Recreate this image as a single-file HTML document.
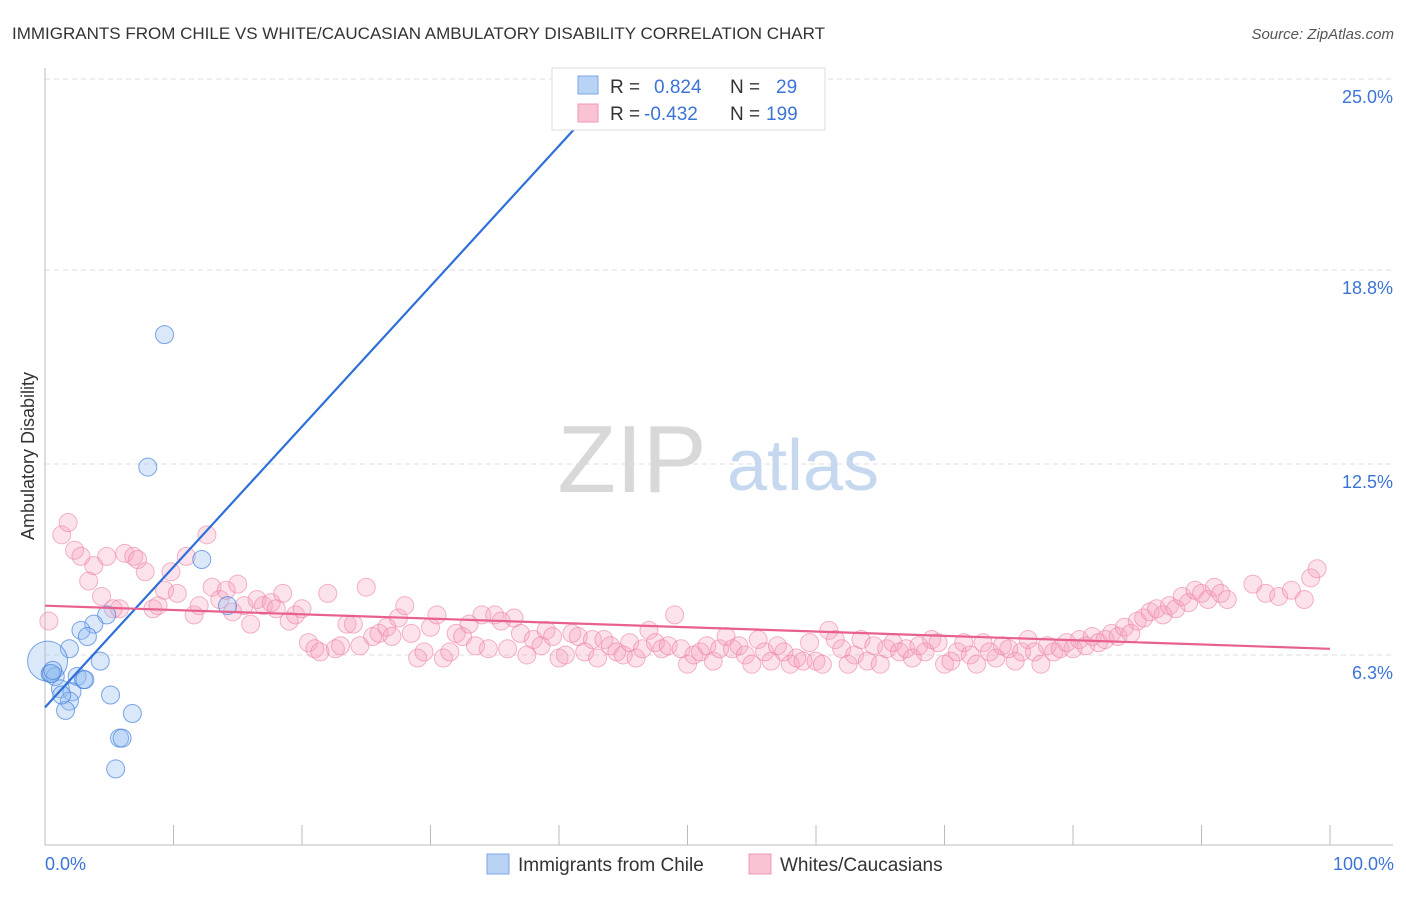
<!DOCTYPE html>
<html><head><meta charset="utf-8"><style>
body{margin:0;background:#fff;font-family:"Liberation Sans",sans-serif}
svg text{font-family:"Liberation Sans",sans-serif}
</style></head><body>
<svg id="c" width="1406" height="892">
<text x="12" y="39" font-size="17" fill="#333">IMMIGRANTS FROM CHILE VS WHITE/CAUCASIAN AMBULATORY DISABILITY CORRELATION CHART</text>
<text x="1394" y="39" font-size="15" fill="#555" font-style="italic" text-anchor="end">Source: ZipAtlas.com</text>
<g id="grid"></g>
<text x="632" y="492" font-size="96" fill="#d8d8d8" font-family="Liberation Serif" text-anchor="middle">ZIP</text>
<text x="803" y="490" font-size="72" fill="#c5d8f0" text-anchor="middle">atlas</text>
<text transform="translate(34,456) rotate(-90)" font-size="18" fill="#333" text-anchor="middle">Ambulatory Disability</text>
<text x="45" y="870" font-size="18" fill="#3b74d6">0.0%</text>
<text x="1394" y="870" font-size="18" fill="#3b74d6" text-anchor="end">100.0%</text>
<g id="pts"></g>
<g id="lines"></g>
<g>
<rect x="552" y="68" width="273" height="62" fill="#fff" stroke="#ddd"/>
<rect x="578" y="76" width="20" height="18" fill="#b9d3f5" stroke="#7da6e6"/>
<rect x="578" y="104" width="20" height="18" fill="#f9c3d3" stroke="#f09ab5"/>
<text x="610" y="93" font-size="19" fill="#333">R = <tspan fill="#3b74d6" x="654">0.824</tspan><tspan x="730">N =</tspan><tspan fill="#3b74d6" x="776">29</tspan></text>
<text x="610" y="120" font-size="19" fill="#333">R = <tspan fill="#3b74d6" x="644">-0.432</tspan><tspan x="730">N =</tspan><tspan fill="#3b74d6" x="766">199</tspan></text>
</g>
<g>
<rect x="487" y="854" width="22" height="20" fill="#b9d3f5" stroke="#7da6e6"/>
<text x="518" y="871" font-size="19" fill="#333">Immigrants from Chile</text>
<rect x="749" y="854" width="22" height="20" fill="#f9c3d3" stroke="#f09ab5"/>
<text x="780" y="871" font-size="19" fill="#333">Whites/Caucasians</text>
</g>
</svg>
<script>
const yTicks=[6.3,12.5,18.8,25.0];
const xTicks=[0,10,20,30,40,50,60,70,80,90,100];
const blueX=[40.5,9.3,8.0,12.2,14.2,4.8,3.8,2.8,3.3,1.9,4.3,0.2,0.4,0.8,0.5,2.5,3.0,1.2,2.1,5.1,1.9,1.6,6.8,5.8,6.0,5.5,1.3,3.1,0.6];
const blueY=[23.8,16.7,12.4,9.4,7.9,7.6,7.3,7.1,6.9,6.5,6.1,6.1,5.7,5.6,5.7,5.6,5.5,5.2,5.1,5.0,4.8,4.5,4.4,3.6,3.6,2.6,5.0,5.5,5.8];
const blueR=[9,9,9,9,9,9,9,9,9,9,9,20,9,9,9,9,9,9,9,9,9,9,9,9,9,9,9,9,9];
const pinkData=[[0.3,7.4],[1.3,10.2],[1.8,10.6],[2.3,9.7],[2.8,9.5],[3.4,8.7],[3.8,9.2],[4.4,8.2],[4.8,9.5],[5.3,7.8],[5.8,7.8],[6.2,9.6],[6.9,9.5],[7.2,9.4],[7.8,9.0],[8.4,7.8],[8.8,7.9],[9.3,8.4],[9.8,9.0],[10.3,8.3],[11,9.5],[11.6,7.6],[12,7.9],[12.6,10.2],[13,8.5],[13.6,8.1],[14.1,8.4],[14.6,7.7],[15,8.6],[15.5,7.9],[16,7.3],[16.5,8.1],[17,7.9],[17.6,8.0],[18,7.8],[18.5,8.3],[19,7.4],[19.5,7.6],[20,7.8],[20.5,6.7],[21,6.5],[21.4,6.4],[22,8.3],[22.6,6.5],[23,6.6],[23.5,7.3],[24,7.3],[24.5,6.6],[25,8.5],[25.5,6.9],[26,7.0],[26.6,7.2],[27,6.9],[27.5,7.5],[28,7.9],[28.5,7.0],[29,6.2],[29.5,6.4],[30,7.2],[30.5,7.6],[31,6.2],[31.5,6.4],[32,7.0],[32.5,6.9],[33,7.3],[33.5,6.6],[34,7.6],[34.5,6.5],[35,7.6],[35.5,7.4],[36,6.5],[36.5,7.5],[37,7.0],[37.5,6.3],[38,6.8],[38.6,6.6],[39,7.1],[39.5,6.9],[40,6.2],[40.5,6.3],[41,7.0],[41.5,6.9],[42,6.4],[42.6,6.8],[43,6.2],[43.5,6.8],[44,6.6],[44.5,6.4],[45,6.3],[45.5,6.7],[46,6.2],[46.5,6.5],[47,7.1],[47.5,6.7],[48,6.5],[48.5,6.6],[49,7.6],[49.5,6.5],[50,6.0],[50.5,6.3],[51,6.4],[51.5,6.6],[52,6.1],[52.5,6.5],[53,6.9],[53.5,6.5],[54,6.6],[54.5,6.3],[55,6.0],[55.5,6.8],[56,6.4],[56.5,6.1],[57,6.6],[57.5,6.4],[58,6.0],[58.5,6.2],[59,6.1],[59.5,6.7],[60,6.1],[60.5,6.0],[61,7.1],[61.5,6.8],[62,6.5],[62.5,6.0],[63,6.3],[63.5,6.8],[64,6.1],[64.5,6.6],[65,6.0],[65.5,6.5],[66,6.7],[66.5,6.4],[67,6.5],[67.5,6.2],[68,6.6],[68.5,6.4],[69,6.8],[69.5,6.7],[70,6.0],[70.5,6.1],[71,6.4],[71.5,6.7],[72,6.3],[72.5,6.0],[73,6.7],[73.5,6.4],[74,6.2],[74.5,6.6],[75,6.5],[75.5,6.1],[76,6.4],[76.5,6.8],[77,6.4],[77.5,6.0],[78,6.6],[78.5,6.4],[79,6.5],[79.5,6.7],[80,6.5],[80.5,6.8],[81,6.6],[81.5,6.9],[82,6.7],[82.5,6.8],[83,7.0],[83.5,6.9],[84,7.2],[84.5,7.0],[85,7.4],[85.5,7.5],[86,7.7],[86.5,7.8],[87,7.6],[87.5,7.9],[88,7.8],[88.5,8.2],[89,8.0],[89.5,8.4],[90,8.3],[90.5,8.1],[91,8.5],[91.5,8.3],[92,8.1],[94,8.6],[95,8.3],[96,8.2],[97,8.4],[98,8.1],[98.5,8.8],[99,9.1]];
const blueLine=[[0,4.6],[44.1,24.7]];
const pinkLine=[[0,7.9],[100,6.5]];
const NS="http://www.w3.org/2000/svg";
function sx(v){return 45+v*12.85;}
function sy(v){return 79+(25-v)*30.8;}
function mk(t,a,p){const e=document.createElementNS(NS,t);for(const k in a)e.setAttribute(k,a[k]);p.appendChild(e);return e;}
const grid=document.getElementById('grid');
yTicks.forEach(t=>{
 const l=mk('line',{x1:45,x2:1393,y1:sy(t),y2:sy(t),stroke:'#ddd','stroke-dasharray':'5,4'},grid);
 
 
 const tx=mk('text',{x:1393,y:sy(t)+24,'font-size':18,fill:'#3b74d6','text-anchor':'end'},grid);
 tx.textContent=t.toFixed(1)+'%';
 
 
});
const ax=mk('line',{x1:45,x2:1393,y1:845,y2:845,stroke:'#bbb'},grid);


const ay=mk('line',{x1:45,x2:45,y1:68,y2:845,stroke:'#bbb'},grid);


xTicks.forEach(t=>{
 const l=mk('line',{x1:sx(t),x2:sx(t),y1:825,y2:845,stroke:'#bbb'},grid);
 
 
});
const pts=document.getElementById('pts');
pinkData.forEach(d=>{
 const c=mk('circle',{cx:sx(d[0]),cy:sy(d[1]),r:9,fill:'rgba(244,160,190,0.3)',stroke:'rgba(236,130,165,0.6)','stroke-width':1},pts);
 
 
});
blueX.forEach((x,i)=>{
 const c=mk('circle',{cx:sx(x),cy:sy(blueY[i]),r:blueR[i],fill:'rgba(150,190,240,0.35)',stroke:'rgba(70,130,220,0.7)','stroke-width':1},pts);
 
 
});
const lines=document.getElementById('lines');
const bl=mk('line',{x1:sx(blueLine[0][0]),y1:sy(blueLine[0][1]),x2:sx(blueLine[1][0]),y2:sy(blueLine[1][1]),stroke:'#2f6fd8','stroke-width':2.2},lines);


const pl=mk('line',{x1:sx(pinkLine[0][0]),y1:sy(pinkLine[0][1]),x2:sx(pinkLine[1][0]),y2:sy(pinkLine[1][1]),stroke:'#e8608c','stroke-width':2.2},lines);


</script>
</body></html>
